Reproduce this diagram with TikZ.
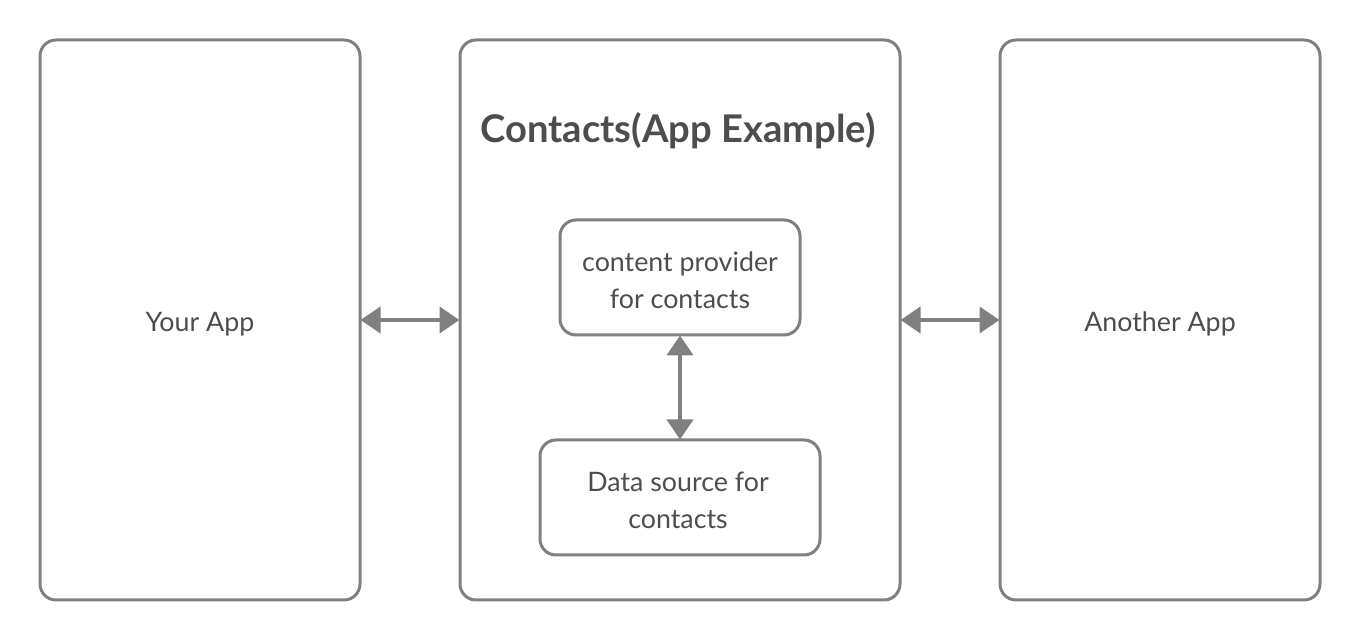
\documentclass[tikz,border=0pt]{standalone}
\usepackage{fontspec}
\setmainfont{Lato}
\usetikzlibrary{arrows.meta}
\definecolor{linegray}{HTML}{808080}
\definecolor{textgray}{HTML}{4D4D4D}
\tikzset{
  box/.style={draw=linegray, line width=1.5pt, rounded corners=8pt, inner sep=0pt, text=textgray, align=center},
  lbl/.style={text=textgray, align=center, font=\fontsize{13.4}{18.5}\selectfont},
  conn/.style={draw=linegray, line width=2pt, {Triangle[length=10pt,width=13pt]}-{Triangle[length=10pt,width=13pt]}, shorten <=-0.5pt, shorten >=-0.5pt}
}
\begin{document}
\begin{tikzpicture}[x=0.5pt,y=-0.5pt]
\useasboundingbox (0,0) rectangle (1360,640);
\node[box, minimum width=160pt, minimum height=280pt] (your) at (200,320) {};
\node[lbl] (yourlbl) at (200,324) {Your App};
\node[box, minimum width=220pt, minimum height=280pt] (contacts) at (680,320) {};
\node[box, minimum width=160pt, minimum height=280pt] (another) at (1160,320) {};
\node[lbl] (anotherlbl) at (1160,324) {Another App};
\node[text=textgray, font=\fontsize{19.1}{22}\selectfont\bfseries] (title) at (678,131) {Contacts(App Example)};
\node[box, minimum width=120pt, minimum height=57.5pt] (cp) at (680,277.5) {};
\node[lbl] (cplbl) at (680,280) {content provider\\for contacts};
\node[box, minimum width=140pt, minimum height=57.5pt] (ds) at (680,497.5) {};
\node[lbl] (dslbl) at (678,500) {Data source for\\contacts};
\draw[conn] (your.east) -- (contacts.west);
\draw[conn] (contacts.east) -- (another.west);
\draw[conn] (cp.south) -- (ds.north);
\end{tikzpicture}
\end{document}
